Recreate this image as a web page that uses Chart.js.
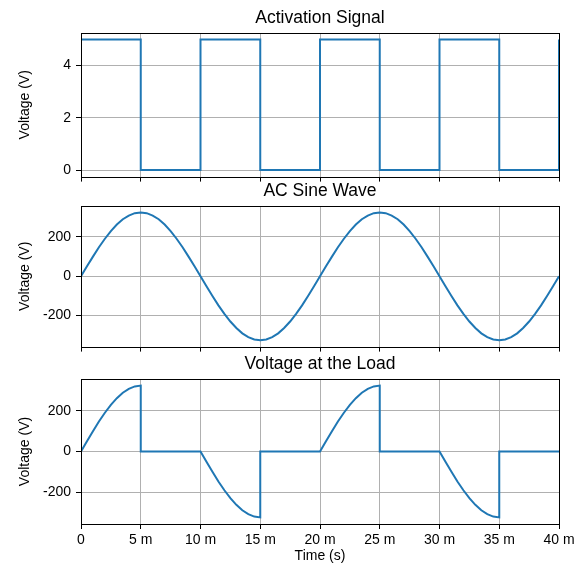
<!DOCTYPE html>
<html lang="en">
<head>
<meta charset="UTF-8">
<title>Activation Signal, AC Sine Wave, Voltage at the Load</title>
<script src="https://cdn.jsdelivr.net/npm/chart.js"></script>
<style>
  body { margin: 0; background: #fff; }
  .wrap { position: relative; width: 581px; height: 565px; }
  .panel { position: absolute; left: 0; width: 581px; }
</style>
</head>
<body>
<div class="wrap">
  <div class="panel" style="top:0;height:190px"><canvas id="c1"></canvas></div>
  <div class="panel" style="top:175px;height:185px"><canvas id="c2"></canvas></div>
  <div class="panel" style="top:350px;height:215px"><canvas id="c3"></canvas></div>
</div>
<script>
// time axis (ms)
const timeTicks = [0, 5, 10, 15, 20, 25, 30, 35, 40];
const timeTickLabels = ['0', '5 m', '10 m', '15 m', '20 m', '25 m', '30 m', '35 m', '40 m'];

// activation signal (stepped)
const squareTime = [0, 5, 10, 15, 20, 25, 30, 35, 40];
const squareV = [5, 0, 5, 0, 5, 0, 5, 0, 5];
const squareTicks = [0, 2, 4];

// AC sine wave, one sample every 0.5 ms
const sineTime = [
  0, 0.5, 1, 1.5, 2, 2.5, 3, 3.5, 4, 4.5, 5, 5.5, 6, 6.5, 7, 7.5, 8, 8.5, 9, 9.5,
  10, 10.5, 11, 11.5, 12, 12.5, 13, 13.5, 14, 14.5, 15, 15.5, 16, 16.5, 17, 17.5, 18, 18.5, 19, 19.5,
  20, 20.5, 21, 21.5, 22, 22.5, 23, 23.5, 24, 24.5, 25, 25.5, 26, 26.5, 27, 27.5, 28, 28.5, 29, 29.5,
  30, 30.5, 31, 31.5, 32, 32.5, 33, 33.5, 34, 34.5, 35, 35.5, 36, 36.5, 37, 37.5, 38, 38.5, 39, 39.5,
  40
];
const sineV = [
  0, 51, 100, 148, 191, 230, 263, 290, 309, 321, 325, 321, 309, 290, 263, 230, 191, 148, 100, 51,
  0, -51, -100, -148, -191, -230, -263, -290, -309, -321, -325, -321, -309, -290, -263, -230, -191, -148, -100, -51,
  0, 51, 100, 148, 191, 230, 263, 290, 309, 321, 325, 321, 309, 290, 263, 230, 191, 148, 100, 51,
  0, -51, -100, -148, -191, -230, -263, -290, -309, -321, -325, -321, -309, -290, -263, -230, -191, -148, -100, -51,
  0
];
const voltTicks = [-200, 0, 200];

// voltage at the load
const loadTime = [
  0, 0.5, 1, 1.5, 2, 2.5, 3, 3.5, 4, 4.5, 5, 5, 10,
  10.5, 11, 11.5, 12, 12.5, 13, 13.5, 14, 14.5, 15, 15, 20,
  20.5, 21, 21.5, 22, 22.5, 23, 23.5, 24, 24.5, 25, 25, 30,
  30.5, 31, 31.5, 32, 32.5, 33, 33.5, 34, 34.5, 35, 35, 40
];
const loadV = [
  0, 51, 100, 148, 191, 230, 263, 290, 309, 321, 325, 0, 0,
  -51, -100, -148, -191, -230, -263, -290, -309, -321, -325, 0, 0,
  51, 100, 148, 191, 230, 263, 290, 309, 321, 325, 0, 0,
  -51, -100, -148, -191, -230, -263, -290, -309, -321, -325, 0, 0
];

const FONT = "'Liberation Sans', Arial, sans-serif";
const BLUE = '#1f77b4';
const GRID = '#b0b0b0';

// box around the plot area (like matplotlib spines) + title centred over the plot
const frame = {
  id: 'frame',
  afterDatasetsDraw(chart, args, o) {
    const a = chart.chartArea, ctx = chart.ctx;
    const l = Math.round(a.left) + 0.5, t = Math.round(a.top) + 0.5;
    const r = Math.round(a.right) + 0.5, b = Math.round(a.bottom) + 0.5;
    ctx.save();
    ctx.strokeStyle = '#000';
    ctx.lineWidth = 1;
    ctx.strokeRect(l, t, r - l, b - t);
    ctx.fillStyle = '#000';
    ctx.font = '17.5px ' + FONT;
    ctx.textAlign = 'center';
    ctx.textBaseline = 'middle';
    ctx.fillText(o.text, (a.left + a.right) / 2, a.top - 15);
    ctx.restore();
  }
};

function makeChart(id, opts) {
  const pts = opts.xs.map((x, i) => ({ x: x, y: opts.ys[i] }));
  return new Chart(document.getElementById(id), {
    type: 'line',
    data: {
      datasets: [{
        data: pts,
        borderColor: BLUE,
        borderWidth: 2,
        pointRadius: 0,
        tension: 0,
        stepped: opts.stepped || false,
        fill: false
      }]
    },
    options: {
      responsive: true,
      maintainAspectRatio: false,
      animation: false,
      events: [],
      layout: { padding: { left: 0, right: 22, top: opts.top, bottom: 0 } },
      plugins: {
        legend: { display: false },
        tooltip: { enabled: false },
        title: { display: false },
        frame: { text: opts.title }
      },
      scales: {
        x: {
          type: 'linear',
          min: 0,
          max: 40,
          afterBuildTicks: s => { s.ticks = timeTicks.map(v => ({ value: v })); },
          afterFit: s => { s.height = opts.xHeight; },
          grid: { color: GRID, lineWidth: 1, tickColor: '#000', tickLength: 5 },
          border: { display: false },
          ticks: {
            display: opts.xLabels,
            autoSkip: false,
            maxRotation: 0,
            padding: 3,
            color: '#000',
            font: { family: FONT, size: 14 },
            callback: v => timeTickLabels[timeTicks.indexOf(v)]
          },
          title: {
            display: opts.xLabels,
            text: 'Time (s)',
            color: '#000',
            font: { family: FONT, size: 14, lineHeight: 1.2 },
            padding: { top: 0, bottom: 0 }
          }
        },
        y: {
          min: opts.yMin,
          max: opts.yMax,
          afterBuildTicks: s => { s.ticks = opts.yTicks.map(v => ({ value: v })); },
          afterFit: s => { s.width = 81; },
          grid: { color: GRID, lineWidth: 1, tickColor: '#000', tickLength: 5 },
          border: { display: false },
          ticks: {
            padding: 5,
            color: '#000',
            font: { family: FONT, size: 14 },
            callback: v => String(v)
          },
          title: {
            display: true,
            text: 'Voltage (V)',
            color: '#000',
            font: { family: FONT, size: 14, lineHeight: 1.2 },
            padding: { top: 16.6, bottom: 0 }
          }
        }
      }
    },
    plugins: [frame]
  });
}

makeChart('c1', {
  title: 'Activation Signal', top: 33,
  xs: squareTime, ys: squareV, stepped: 'before',
  yMin: -0.25, yMax: 5.25, yTicks: squareTicks,
  xHeight: 13, xLabels: false
});

makeChart('c2', {
  title: 'AC Sine Wave', top: 31,
  xs: sineTime, ys: sineV,
  yMin: -357.5, yMax: 357.5, yTicks: voltTicks,
  xHeight: 10, xLabels: false
});

makeChart('c3', {
  title: 'Voltage at the Load', top: 29,
  xs: loadTime, ys: loadV,
  yMin: -357.5, yMax: 357.5, yTicks: voltTicks,
  xHeight: 41, xLabels: true
});
</script>
</body>
</html>
